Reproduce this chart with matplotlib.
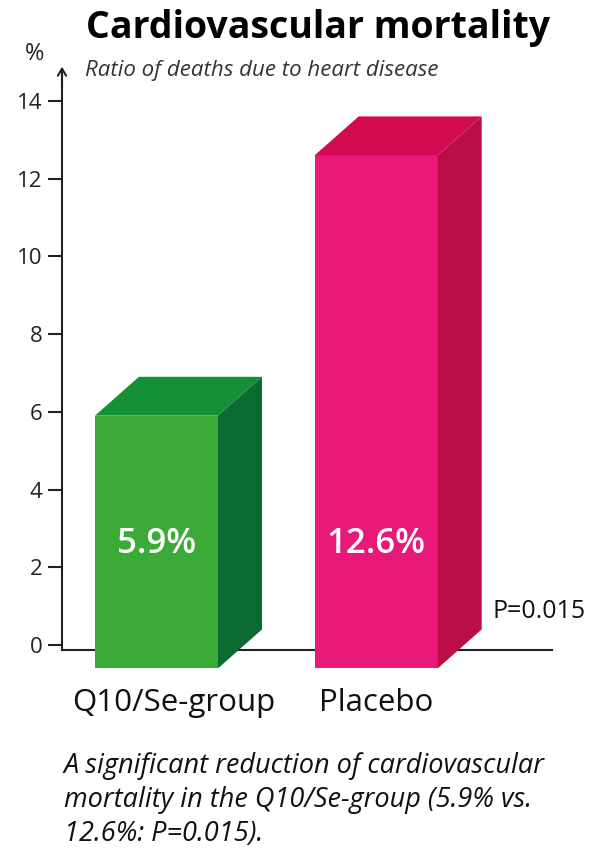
import matplotlib.pyplot as plt
from matplotlib.patches import Polygon

plt.rcParams["font.family"] = ["Open Sans", "DejaVu Sans"]

# data
groups = ["Q10/Se-group", "Placebo"]
mortality = [5.9, 12.6]
p_value = "P=0.015"
yticks = [0, 2, 4, 6, 8, 10, 12, 14]

# colours per bar: front, top, side
front_colors = ["#3caa37", "#e81978"]
top_colors = ["#149137", "#d40a50"]
side_colors = ["#0a6a32", "#b90f46"]

W, H = 592, 849
fig = plt.figure(figsize=(W / 100, H / 100), dpi=100)
ax = fig.add_axes([62 / W, 1 - 690 / H, 490 / W, 628 / H])

x = list(range(len(groups)))
bar_w = 0.56
base = -0.6          # front face hangs a bit below the axis (perspective)
dx, dy = 0.2, 1.0    # depth of the 3D box

ax.bar(x, [v - base for v in mortality], bottom=base, width=bar_w,
       color=front_colors, zorder=3)
for xi, v, tc, sc in zip(x, mortality, top_colors, side_colors):
    l, r = xi - bar_w / 2, xi + bar_w / 2
    top = Polygon([(l, v), (r, v), (r + dx, v + dy), (l + dx, v + dy)],
                  closed=True, color=tc, zorder=3, lw=0)
    side = Polygon([(r, base), (r + dx, base + dy), (r + dx, v + dy), (r, v)],
                   closed=True, color=sc, zorder=3, lw=0)
    ax.add_patch(top)
    ax.add_patch(side)
    ax.text(xi, 2.6, f"{v}%", ha="center", va="center", color="white",
            fontsize=25, fontweight="semibold", zorder=4)

ax.set_xlim(-0.43, 1.80)
ax.set_ylim(-1.158, 15.0)

ax.spines["top"].set_visible(False)
ax.spines["right"].set_visible(False)
ax.spines["left"].set_bounds(-0.13, 14.7)
ax.spines["bottom"].set_position(("data", -0.13))
for s in ("left", "bottom"):
    ax.spines[s].set_linewidth(1.5)
    ax.spines[s].set_color("#222222")
    ax.spines[s].set_zorder(2)

ax.set_yticks(yticks)
ax.tick_params(axis="y", length=10, width=1.5, color="#222222", pad=4,
               labelsize=16, labelcolor="#222222")
# group names sit a little right of the green box
label_shift = [0.077, 0.0]
ax.set_xticks([xi + s for xi, s in zip(x, label_shift)])
ax.set_xticklabels(groups)
ax.tick_params(axis="x", length=0, pad=27, labelsize=22.5, labelcolor="#111111")

# arrow head on the y axis
ax.annotate("", xy=(0, 14.95), xytext=(0, 14.3),
            xycoords=("axes fraction", "data"),
            arrowprops=dict(arrowstyle="->,head_length=0.5,head_width=0.3",
                            lw=1.5, color="#222222"))

ax.text(1.53, 0.87, p_value, ha="left", va="center", fontsize=18,
        color="#111111")

fig.text(318 / W, 1 - 38 / H, "Cardiovascular mortality", ha="center",
         va="baseline", fontsize=27, fontweight="bold", color="#000000")
fig.text(85 / W, 1 - 76 / H, "Ratio of deaths due to heart disease",
         ha="left", va="baseline", fontsize=16, style="italic",
         color="#333333")
fig.text(25 / W, 1 - 60 / H, "%", ha="left", va="baseline", fontsize=17,
         color="#222222")

notes = ["A significant reduction of cardiovascular",
         "mortality in the Q10/Se-group (5.9% vs.",
         "12.6%: P=0.015)."]
for i, line in enumerate(notes):
    fig.text(64 / W, 1 - (773 + 34 * i) / H, line, ha="left", va="baseline",
             fontsize=19.5, style="italic", color="#111111")

fig.savefig("out.png", dpi=100, facecolor="white")
